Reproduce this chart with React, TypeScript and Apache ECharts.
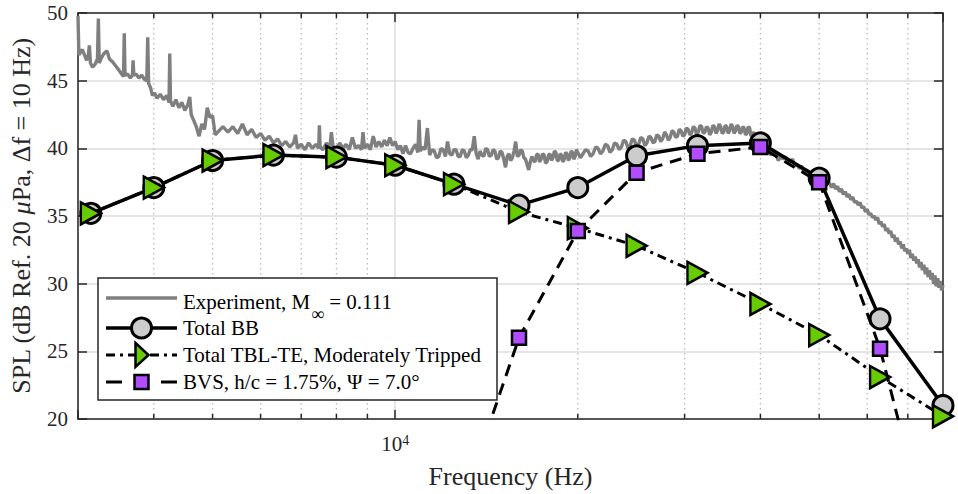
import React, { useEffect, useRef } from "react";
import * as echarts from "echarts";

// One-third-octave band centre frequencies (Hz)
const BAND_FREQ = [3150, 4000, 5000, 6300, 8000, 10000, 12500, 16000, 20000, 25000, 31500, 40000, 50000, 63000, 80000];

// Predicted SPL per band (dB)
const TOTAL_BB = [35.2, 37.1, 39.1, 39.5, 39.35, 38.75, 37.35, 35.8, 37.1, 39.45, 40.2, 40.4, 37.8, 27.4, 21.0];
const TOTAL_TBL_TE = [35.2, 37.1, 39.1, 39.5, 39.35, 38.75, 37.35, 35.3, 34.1, 32.8, 30.8, 28.5, 26.2, 23.1, 20.2];
const BVS = [null, null, null, null, null, null, 12.0, 26.0, 33.9, 38.2, 39.6, 40.1, 37.5, 25.2, 7.0];

// Measured narrow-band spectrum: [frequency Hz, SPL dB]
const EXPERIMENT: [number, number][] = [
  [3000, 49.8], [3010, 46.9], [3050, 47.3], [3100, 46.5], [3120, 46.9], [3132, 47.6], [3145, 46.3], [3170, 46.0],
  [3200, 46.2], [3230, 46.6], [3241, 49.6], [3252, 46.3], [3280, 46.7], [3310, 47.0], [3350, 47.2], [3380, 46.6],
  [3420, 46.4], [3460, 46.1], [3500, 45.8], [3540, 45.5], [3566, 45.3], [3576, 48.5], [3586, 45.4], [3620, 45.5],
  [3660, 45.2], [3688, 45.4], [3698, 46.5], [3708, 45.4], [3740, 45.5], [3780, 45.2], [3820, 45.4], [3860, 45.1],
  [3895, 45.0], [3909, 48.2], [3922, 44.8], [3950, 44.5], [3980, 43.9], [4010, 44.1],
  [4050, 43.7], [4100, 44.0], [4150, 43.6], [4200, 43.9], [4238, 43.4], [4250, 47.0], [4262, 43.5], [4300, 43.1],
  [4350, 43.6], [4400, 43.0], [4450, 43.4], [4500, 42.8], [4550, 43.2], [4585, 43.8], [4610, 42.5], [4650, 42.1],
  [4700, 41.6], [4750, 40.9], [4800, 41.8], [4850, 41.4], [4900, 43.0], [4950, 42.3], [5000, 42.4], [5050, 41.0],
  [5100, 41.2], [5200, 41.6], [5300, 41.2], [5400, 41.6], [5500, 41.1], [5600, 41.8], [5700, 41.0], [5800, 41.4],
  [5900, 40.8], [6000, 41.1], [6100, 40.6], [6200, 40.9], [6300, 40.4], [6400, 40.7], [6500, 40.2], [6600, 40.5],
  [6700, 40.1], [6800, 40.4], [6850, 41.0], [6900, 40.0], [7000, 40.3], [7100, 39.9], [7200, 40.4], [7300, 40.0],
  [7400, 40.3], [7480, 40.0], [7500, 41.7], [7520, 40.1], [7600, 39.9], [7700, 40.4], [7800, 40.0], [7850, 41.2],
  [7900, 40.1], [8000, 39.9], [8100, 40.4], [8200, 40.0], [8300, 40.3], [8400, 39.9], [8500, 40.8], [8600, 40.0],
  [8700, 40.2], [8800, 39.9], [8850, 41.2], [8900, 40.0], [9000, 40.3], [9100, 39.9], [9200, 40.9], [9300, 40.1],
  [9400, 40.5], [9500, 40.1], [9600, 40.6], [9700, 40.2], [9800, 40.8], [9900, 40.2], [10000, 40.5],
  [10100, 39.9], [10200, 40.2], [10300, 39.6], [10400, 40.2], [10500, 39.7], [10600, 39.6], [10700, 40.0], [10800, 40.3],
  [10900, 39.7], [10950, 42.1], [11000, 39.8], [11100, 40.1], [11200, 39.9], [11300, 41.5], [11400, 39.5], [11500, 39.9],
  [11600, 39.8], [11700, 39.3], [11800, 39.4], [11900, 40.0], [12000, 39.9], [12100, 39.4], [12200, 40.5], [12300, 39.6],
  [12400, 39.5], [12500, 39.9], [12600, 39.9], [12700, 39.4], [12800, 39.4], [12900, 39.9], [13000, 39.8], [13100, 39.3],
  [13200, 39.5], [13300, 39.9], [13400, 39.9], [13500, 40.9], [13600, 39.6], [13700, 39.2], [13800, 39.8], [13900, 39.5],
  [14000, 39.4], [14100, 40.0], [14200, 39.9], [14300, 39.4], [14400, 39.5], [14500, 39.9], [14600, 39.8], [14700, 39.2],
  [14800, 39.3], [14900, 39.8], [15000, 39.7], [15100, 39.2], [15200, 38.6], [15300, 39.4], [15400, 39.6], [15500, 39.1],
  [15600, 39.3], [15700, 39.8], [15800, 40.5], [15900, 39.4], [16000, 39.5], [16100, 39.9], [16200, 39.8], [16300, 39.3],
  [16400, 39.2], [16500, 38.8], [16600, 38.4], [16700, 39.0], [16800, 39.4], [16900, 39.1], [17000, 39.0], [17100, 39.5],
  [17200, 39.6], [17300, 39.0], [17400, 39.2], [17500, 39.6], [17600, 39.5], [17700, 38.9], [17800, 39.0], [17900, 39.5],
  [18000, 39.6], [18100, 39.1], [18200, 39.3], [18300, 39.8], [18400, 39.7], [18500, 39.1], [18600, 39.1], [18700, 39.6],
  [18800, 39.5], [18900, 39.0], [19000, 39.2], [19100, 39.7], [19200, 39.6], [19300, 39.1], [19400, 39.3], [19500, 39.8],
  [19600, 39.7], [19700, 39.2], [19800, 39.4], [19900, 39.9], [20000, 39.7],
  [20200, 39.3], [20400, 39.6], [20600, 39.9], [20800, 39.8], [21000, 39.4], [21200, 39.6], [21400, 40.1], [21600, 40.0],
  [21800, 39.6], [22000, 39.8], [22200, 40.3], [22400, 40.2], [22600, 39.7], [22800, 39.9], [23000, 40.4], [23200, 40.3],
  [23400, 39.9], [23600, 40.1], [23800, 40.6], [24000, 40.5], [24200, 40.0], [24400, 40.2], [24600, 40.7], [24800, 40.6],
  [25000, 40.1], [25200, 40.3], [25400, 40.8], [25600, 40.7], [25800, 40.2], [26000, 40.4], [26200, 40.9], [26400, 40.8],
  [26600, 40.4], [26800, 40.5], [27000, 41.0], [27200, 40.9], [27400, 40.5], [27600, 40.7], [27800, 41.2], [28000, 41.0],
  [28200, 40.6], [28400, 40.8], [28600, 41.3], [28800, 41.2], [29000, 40.8], [29200, 40.9], [29400, 41.4], [29600, 41.3],
  [29800, 40.9], [30000, 41.0], [30200, 41.5], [30400, 41.4], [30600, 41.0], [30800, 41.1], [31000, 41.6], [31200, 41.5],
  [31400, 41.0], [31600, 41.2], [31800, 41.7], [32000, 41.6], [32200, 41.1], [32400, 41.2], [32600, 41.6], [32800, 41.5],
  [33000, 41.0], [33200, 41.2], [33400, 41.7], [33600, 41.6], [33800, 41.1], [34000, 41.3], [34200, 41.8], [34400, 41.6],
  [34600, 41.1], [34800, 41.2], [35000, 41.7], [35200, 41.6], [35400, 41.1], [35600, 41.3], [35800, 41.8], [36000, 41.6],
  [36200, 41.1], [36400, 41.3], [36600, 41.7], [36800, 41.6], [37000, 41.1], [37200, 41.2], [37400, 41.6], [37600, 41.5],
  [37800, 41.0], [38000, 41.1], [38200, 41.6], [38400, 41.5], [38600, 40.9], [38800, 41.0], [39000, 41.2], [39200, 40.9],
  [39400, 40.5], [39600, 40.6], [39800, 40.2], [40000, 40.4],
  [40400, 40.2], [40800, 39.9], [41200, 40.0], [41600, 39.5], [42000, 39.7], [42400, 39.6], [42800, 39.1], [43200, 39.4],
  [43600, 39.2], [44000, 39.4], [44400, 38.9], [44800, 39.0], [45200, 39.2], [45600, 38.7], [46000, 38.8], [46400, 38.5],
  [46800, 38.7], [47200, 38.2], [47600, 38.4], [48000, 38.3], [48400, 37.9], [48800, 38.3], [49200, 38.0], [49600, 37.7],
  [50000, 38.0], [50400, 37.6], [50800, 37.8], [51200, 37.3], [51600, 37.6], [52000, 37.4], [52400, 37.1], [52800, 37.4],
  [53200, 37.0], [53600, 37.2], [54000, 36.8], [54400, 37.0], [54800, 36.6], [55200, 36.8], [55600, 36.4], [56000, 36.6],
  [56400, 36.2], [56800, 36.4], [57200, 36.0], [57600, 36.1], [58000, 35.8], [58400, 36.0], [58800, 35.6], [59200, 35.7],
  [59600, 35.3], [60000, 35.5], [60400, 35.1], [60800, 35.2], [61200, 34.9], [61600, 35.0], [62000, 34.7], [62400, 34.9],
  [62800, 34.4], [63200, 34.6], [63600, 34.2], [64000, 34.4], [64400, 33.9], [64800, 34.1], [65200, 33.7], [65600, 33.9],
  [66000, 33.4], [66400, 33.6], [66800, 33.1], [67200, 33.4], [67600, 32.9], [68000, 33.1], [68400, 32.6], [68800, 32.9],
  [69200, 32.4], [69600, 32.6], [70000, 32.2], [70400, 32.5], [70800, 31.9], [71200, 32.2], [71600, 31.7], [72000, 32.0],
  [72400, 31.5], [72800, 31.8], [73200, 31.2], [73600, 31.6], [74000, 31.0], [74400, 31.4], [74800, 30.7], [75200, 31.2],
  [75600, 30.5], [76000, 31.0], [76400, 30.3], [76800, 30.8], [77200, 30.0], [77600, 30.6], [78000, 29.8], [78400, 30.4],
  [78800, 29.7], [79200, 30.2], [79600, 29.5], [80000, 29.9],
];

// Axis limits and decorations
const X_MIN = 3000;
const X_MAX = 80000;
const Y_MIN = 20;
const Y_MAX = 50;
const Y_STEP = 5;
const MINOR_FREQ = [4000, 5000, 6000, 7000, 8000, 9000, 20000, 30000, 40000, 50000, 60000, 70000];

const SERIES_NAMES = {
  exp: "Experiment, M∞ = 0.111",
  bb: "Total BB",
  tbl: "Total TBL-TE, Moderately Tripped",
  bvs: "BVS, h/c = 1.75%, Ψ = 7.0°",
};

const FONT = "Liberation Serif";
const AXIS_COLOR = "#262626";
const GRID_COLOR = "#dcdcdc";
const EXP_COLOR = "#7f7f7f";
const BB_FILL = "#cccccc";
const TBL_FILL = "#66cc00";
const BVS_FILL = "#b24dff";
const TBL_DASH = [9, 5, 3, 5];
const BVS_DASH = [12, 8];

// Square marker with transparent margin so it renders smaller than the bounding box
const SQUARE_SYMBOL = "path://M0,0M22,22M4,4L18,4L18,18L4,18Z";

// Legend box layout (pixels)
const LEG = { x: 98, y: 278, w: 399, h: 122, lineX1: 106, lineX2: 177, textX: 183, rows: [298, 328, 355, 382] };

function legendGraphics() {
  const mid = (LEG.lineX1 + LEG.lineX2) / 2;
  const [r1, r2, r3, r4] = LEG.rows;
  const txt = (text: string, y: number) => ({
    type: "text",
    z: 102,
    silent: true,
    style: { text, x: LEG.textX, y, fontFamily: FONT, fontSize: 21, fill: "#000000", verticalAlign: "middle" },
  });
  return [
    {
      type: "rect",
      z: 100,
      silent: true,
      shape: { x: LEG.x, y: LEG.y, width: LEG.w, height: LEG.h },
      style: { fill: "#ffffff", stroke: AXIS_COLOR, lineWidth: 1.5 },
    },
    // Experiment
    {
      type: "line",
      z: 101,
      silent: true,
      shape: { x1: LEG.lineX1, y1: r1, x2: LEG.lineX2, y2: r1 },
      style: { stroke: EXP_COLOR, lineWidth: 3.4 },
    },
    {
      type: "text",
      z: 102,
      silent: true,
      style: {
        text: "{n|Experiment, M}{s|∞}{n| = 0.111}",
        x: LEG.textX,
        y: r1 + 3,
        verticalAlign: "middle",
        rich: {
          n: { fontFamily: FONT, fontSize: 21, fill: "#000000", lineHeight: 20, verticalAlign: "top" },
          s: {
            fontFamily: FONT,
            fontSize: 18,
            fill: "#000000",
            lineHeight: 18,
            verticalAlign: "top",
            padding: [14, 0, 0, 1],
          },
        },
      },
    },
    // Total BB
    {
      type: "line",
      z: 101,
      silent: true,
      shape: { x1: LEG.lineX1, y1: r2, x2: LEG.lineX2, y2: r2 },
      style: { stroke: "#000000", lineWidth: 3.5 },
    },
    {
      type: "circle",
      z: 102,
      silent: true,
      shape: { cx: mid, cy: r2, r: 10 },
      style: { fill: BB_FILL, stroke: "#000000", lineWidth: 3 },
    },
    txt(SERIES_NAMES.bb, r2),
    // Total TBL-TE
    {
      type: "line",
      z: 101,
      silent: true,
      shape: { x1: LEG.lineX1, y1: r3, x2: LEG.lineX2, y2: r3 },
      style: { stroke: "#000000", lineWidth: 3, lineDash: TBL_DASH },
    },
    {
      type: "polygon",
      z: 102,
      silent: true,
      shape: { points: [[mid - 6, r3 - 12], [mid + 7, r3], [mid - 6, r3 + 12]] },
      style: { fill: TBL_FILL, stroke: "#000000", lineWidth: 2.5, lineJoin: "miter" },
    },
    txt(SERIES_NAMES.tbl, r3),
    // BVS
    {
      type: "line",
      z: 101,
      silent: true,
      shape: { x1: LEG.lineX1, y1: r4, x2: LEG.lineX1 + 16, y2: r4 },
      style: { stroke: "#000000", lineWidth: 3 },
    },
    {
      type: "line",
      z: 101,
      silent: true,
      shape: { x1: LEG.lineX2 - 16, y1: r4, x2: LEG.lineX2, y2: r4 },
      style: { stroke: "#000000", lineWidth: 3 },
    },
    {
      type: "rect",
      z: 102,
      silent: true,
      shape: { x: mid - 7, y: r4 - 7, width: 14, height: 14 },
      style: { fill: BVS_FILL, stroke: "#000000", lineWidth: 2.5 },
    },
    txt(SERIES_NAMES.bvs, r4),
  ];
}

export default function App() {
  const ref = useRef<HTMLDivElement>(null);

  useEffect(() => {
    if (!ref.current) return;
    const chart = echarts.init(ref.current, null, { renderer: "svg" });

    const bandPairs = (vals: (number | null)[]) => BAND_FREQ.map((f, i) => [f, vals[i]]);

    const axisLineStyle = { color: AXIS_COLOR, width: 1.5 };

    const option: any = {
      animation: false,
      backgroundColor: "#ffffff",
      textStyle: { fontFamily: FONT },
      grid: { left: 78, right: 15, top: 13, bottom: 75 },
      xAxis: [
        {
          type: "log",
          logBase: 10,
          min: X_MIN,
          max: X_MAX,
          position: "bottom",
          axisLine: { show: true, lineStyle: axisLineStyle },
          axisTick: { show: true, inside: true, length: 9, lineStyle: axisLineStyle },
          axisLabel: {
            margin: 14,
            formatter: (v: number) => (Math.abs(v - 10000) < 1 ? "{b|10}{s|4}" : ""),
            rich: {
              b: { fontFamily: FONT, fontSize: 21, color: AXIS_COLOR, lineHeight: 22 },
              s: { fontFamily: FONT, fontSize: 14, color: AXIS_COLOR, lineHeight: 14, verticalAlign: "top" },
            },
          },
          splitLine: { show: true, lineStyle: { color: GRID_COLOR, width: 1.5 } },
          name: "Frequency (Hz)",
          nameLocation: "middle",
          nameGap: 44,
          nameTextStyle: { fontFamily: FONT, fontSize: 26, color: AXIS_COLOR },
        },
        {
          type: "log",
          logBase: 10,
          min: X_MIN,
          max: X_MAX,
          position: "top",
          axisLine: { show: true, lineStyle: axisLineStyle },
          axisTick: { show: true, inside: true, length: 9, lineStyle: axisLineStyle },
          axisLabel: { show: false },
          splitLine: { show: false },
        },
      ],
      yAxis: [
        {
          type: "value",
          min: Y_MIN,
          max: Y_MAX,
          interval: Y_STEP,
          position: "left",
          axisLine: { show: true, lineStyle: axisLineStyle },
          axisTick: { show: true, inside: true, length: 9, lineStyle: axisLineStyle },
          axisLabel: { margin: 10, fontFamily: FONT, fontSize: 21, color: AXIS_COLOR },
          splitLine: { show: true, lineStyle: { color: GRID_COLOR, width: 1.5 } },
          name: "{n|SPL (dB Ref. 20 }{i|μ}{n|Pa, Δf = 10 Hz)}",
          nameLocation: "middle",
          nameGap: 44,
          nameRotate: 90,
          nameTextStyle: {
            fontFamily: FONT,
            fontSize: 26,
            color: AXIS_COLOR,
            rich: {
              n: { fontFamily: FONT, fontSize: 26, color: AXIS_COLOR },
              i: { fontFamily: FONT, fontSize: 26, color: AXIS_COLOR, fontStyle: "italic" },
            },
          },
        },
        {
          type: "value",
          min: Y_MIN,
          max: Y_MAX,
          interval: Y_STEP,
          position: "right",
          axisLine: { show: true, lineStyle: axisLineStyle },
          axisTick: { show: true, inside: true, length: 9, lineStyle: axisLineStyle },
          axisLabel: { show: false },
          splitLine: { show: false },
        },
      ],
      graphic: legendGraphics(),
      series: [
        {
          // minor log grid and minor ticks on the bottom and top axes
          type: "custom",
          silent: true,
          z: 1,
          xAxisIndex: 0,
          yAxisIndex: 0,
          data: MINOR_FREQ.map((f) => [f, Y_MIN]),
          renderItem: (_params: any, api: any) => {
            const f = api.value(0);
            const top = api.coord([f, Y_MAX]);
            const bottom = api.coord([f, Y_MIN]);
            return {
              type: "group",
              children: [
                {
                  type: "line",
                  shape: { x1: top[0], y1: top[1], x2: bottom[0], y2: bottom[1] },
                  style: { stroke: "#b4b4b4", lineWidth: 1.2, lineDash: [1.5, 3.5] },
                },
                {
                  type: "line",
                  shape: { x1: bottom[0], y1: bottom[1], x2: bottom[0], y2: bottom[1] - 5 },
                  style: { stroke: AXIS_COLOR, lineWidth: 1.5 },
                },
                {
                  type: "line",
                  shape: { x1: top[0], y1: top[1], x2: top[0], y2: top[1] + 5 },
                  style: { stroke: AXIS_COLOR, lineWidth: 1.5 },
                },
              ],
            };
          },
        },
        {
          name: SERIES_NAMES.exp,
          type: "line",
          data: EXPERIMENT,
          symbol: "none",
          showSymbol: false,
          lineStyle: { color: EXP_COLOR, width: 3.4 },
          itemStyle: { color: EXP_COLOR },
          z: 2,
        },
        {
          name: SERIES_NAMES.bb,
          type: "line",
          data: bandPairs(TOTAL_BB),
          symbol: "circle",
          symbolSize: 20,
          clip: false,
          lineStyle: { color: "#000000", width: 3.5 },
          itemStyle: { color: BB_FILL, borderColor: "#000000", borderWidth: 3 },
          z: 3,
        },
        {
          name: SERIES_NAMES.tbl,
          type: "line",
          data: bandPairs(TOTAL_TBL_TE),
          symbol: "triangle",
          symbolRotate: -90,
          symbolSize: [22, 20],
          clip: false,
          lineStyle: { color: "#000000", width: 3, type: TBL_DASH },
          itemStyle: { color: TBL_FILL, borderColor: "#000000", borderWidth: 2.5 },
          z: 4,
        },
        {
          name: SERIES_NAMES.bvs,
          type: "line",
          data: bandPairs(BVS),
          connectNulls: false,
          symbol: SQUARE_SYMBOL,
          symbolSize: 22,
          clip: true,
          lineStyle: { color: "#000000", width: 3, type: BVS_DASH },
          itemStyle: { color: BVS_FILL, borderColor: "#000000", borderWidth: 2.5 },
          z: 5,
        },
      ],
    };

    chart.setOption(option);
    return () => chart.dispose();
  }, []);

  return (
    <div
      ref={ref}
      style={{ position: "fixed", left: 0, top: 0, width: 958, height: 494, background: "#fff" }}
    />
  );
}
